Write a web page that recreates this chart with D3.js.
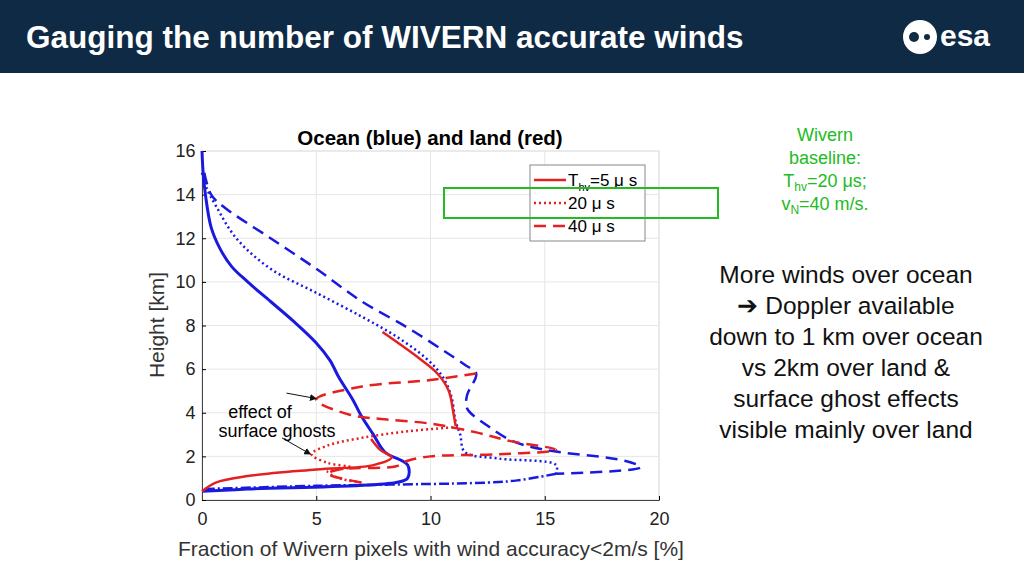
<!DOCTYPE html>
<meta charset="utf-8">
<style>
body{margin:0;background:#fff;font-family:"Liberation Sans",Arial,sans-serif;}
</style>
<body>
<script src="https://d3js.org/d3.v7.min.js"></script>
<script>
// [fraction %, height km]
var oceanSolid = [[0,16],[0.05,15],[0.15,14],[0.4,12.5],[0.8,11.5],[1.3,10.7],[2,10],[3,9.1],[4,8.2],[5,7.2],[5.6,6.4],[6,5.6],[6.6,4.6],[7,3.8],[7.5,3],[8,2.2],[9,1.6],[9,1],[8.5,0.8],[2,0.5],[0,0.4]];
var oceanDot = [[0,15],[0.2,14.3],[0.6,13.5],[1.5,12],[3,10.6],[5,9.5],[7,8.4],[8.5,7.5],[9.8,6.5],[10.5,5.7],[10.9,4.8],[11.1,3.6],[11.3,3],[11.5,2.2],[13,1.9],[15.5,1.6],[15.5,1.2]];
var oceanDash = [[0.1,15],[0.4,14],[1,13.4],[3,12],[5,10.6],[7,9.1],[9,7.9],[10.5,6.9],[11.5,6.2],[12,5.8],[11.6,4.8],[11.6,4.2],[12.5,3.4],[13.6,2.7],[15,2.3],[18.5,1.8],[19.2,1.5],[15.5,1.2]];
var oceanLow = [[15.5,1.2],[13.8,0.9],[12.5,0.8],[5,0.65],[0,0.5]];
var landSolid = [[7.9,7.7],[9.5,6.5],[10.3,5.8],[10.8,5],[11,4],[11.1,3.4],null,[7.4,2.8],[7.8,2.3],[8.3,1.95],[7.5,1.6],[5,1.4],[2,1.1],[0.6,0.8],[0,0.4]];
var landDot = [[11.2,3.35],[9,3.15],[7,2.85],[5.5,2.5],[4.8,2.1],[5.5,1.7],[6.5,1.5],[5.5,1.3],[6,1],[7,0.8]];
var landDash = [[12,5.8],[10,5.5],[7,5.2],[5,4.6],[6.5,3.9],[8,3.7],[10,3.5],[12,3.1],[13.5,2.7],[15.5,2.3],[13,2.1],[10,2],[9,1.8],[8.5,1.55],[6,1.4],[5.5,1.2],[7,0.8]];
var xTicks = [0,5,10,15,20];
var yTicks = [0,2,4,6,8,10,12,14,16];
var legendItems = [["T","=5 \u03bc s","0"],["","20 \u03bc s","2,3"],["","40 \u03bc s","12,7"]];
var notes = ["More winds over ocean","\u2794 Doppler available","down to 1 km over ocean","vs 2km over land &","surface ghost effects","visible mainly over land"];

var svg = d3.select("body").append("svg").attr("width",1024).attr("height",575);
svg.append("rect").attr("width",1024).attr("height",73).attr("fill","#0f2a44");
svg.append("text").attr("x",26).attr("y",48).attr("fill","#fff").attr("font-size",31.5).attr("font-weight","bold").text("Gauging the number of WIVERN accurate winds");
// esa logo
svg.append("circle").attr("cx",920).attr("cy",37).attr("r",17).attr("fill","#fff");
svg.append("circle").attr("cx",914).attr("cy",37).attr("r",5).attr("fill","#0f2a44");
svg.append("circle").attr("cx",927).attr("cy",37).attr("r",3).attr("fill","#0f2a44");
svg.append("text").attr("x",940).attr("y",46).attr("fill","#fff").attr("font-size",30).attr("font-weight","bold").text("esa");

var x = d3.scaleLinear().domain([0,20]).range([202,659]);
var y = d3.scaleLinear().domain([0,16]).range([500,151]);
var g = svg.append("g").attr("font-family","Liberation Sans, Arial");
g.append("rect").attr("x",202).attr("y",151).attr("width",457).attr("height",349).attr("fill","#fff").attr("stroke","#ddd");
xTicks.forEach(function(t){g.append("line").attr("x1",x(t)).attr("x2",x(t)).attr("y1",151).attr("y2",500).attr("stroke","#e6e6e6");});
yTicks.forEach(function(t){g.append("line").attr("x1",202).attr("x2",659).attr("y1",y(t)).attr("y2",y(t)).attr("stroke","#e6e6e6");});
g.append("g").attr("transform","translate(0,500)").call(d3.axisBottom(x).tickValues(xTicks).tickSize(-4))
  .call(function(a){a.selectAll("text").attr("font-size",18).attr("fill","#222").attr("dy","1.2em");a.select(".domain").attr("stroke","#444");});
g.append("g").attr("transform","translate(202,0)").call(d3.axisLeft(y).tickValues(yTicks).tickSize(-4))
  .call(function(a){a.selectAll("text").attr("font-size",18).attr("fill","#222").attr("dx","-0.2em");a.select(".domain").attr("stroke","#444");});
g.append("text").attr("x",430).attr("y",145).attr("text-anchor","middle").attr("font-size",20.5).attr("font-weight","bold").text("Ocean (blue) and land (red)");
g.append("text").attr("x",431).attr("y",556).attr("text-anchor","middle").attr("font-size",21).attr("fill","#333").text("Fraction of Wivern pixels with wind accuracy<2m/s [%]");
g.append("text").attr("transform","translate(164,325) rotate(-90)").attr("text-anchor","middle").attr("font-size",21).attr("fill","#333").text("Height [km]");

var line = d3.line().defined(function(d){return d;}).curve(d3.curveCatmullRom).x(function(d){return x(d[0]);}).y(function(d){return y(d[1]);});
function draw(data,color,dash,w){
  g.append("path").datum(data).attr("d",line).attr("fill","none").attr("stroke",color).attr("stroke-width",w||2.5).attr("stroke-dasharray",dash);
}
draw(oceanDot,"#1a1adf","2,3");
draw(oceanDash,"#1a1adf","12,7");
draw(oceanLow,"#1a1adf","10,3,2,3");
draw(oceanSolid,"#1a1adf",null,3);
draw(landDash,"#e52020","12,7");
draw(landDot,"#e52020","2,3");
draw(landSolid,"#e52020",null,2.5);

// annotations
svg.append("defs").append("marker").attr("id","ar").attr("viewBox","0 0 10 10").attr("refX",9).attr("refY",5)
  .attr("markerWidth",7).attr("markerHeight",7).attr("orient","auto").append("path").attr("d","M0,0L10,5L0,10z").attr("fill","#111");
[[[3.7,4.9],[5,4.65]],[[3.5,2.85],[4.75,2.1]]].forEach(function(a){
  g.append("line").attr("x1",x(a[0][0])).attr("y1",y(a[0][1])).attr("x2",x(a[1][0])).attr("y2",y(a[1][1])).attr("stroke","#111").attr("marker-end","url(#ar)");
});
g.append("text").attr("x",260).attr("y",418).attr("text-anchor","middle").attr("font-size",18).text("effect of");
g.append("text").attr("x",277).attr("y",437).attr("text-anchor","middle").attr("font-size",18).text("surface ghosts");

// legend
var lg = g.append("g");
lg.append("rect").attr("x",530).attr("y",165).attr("width",115).attr("height",76).attr("fill","#fff").attr("stroke","#888");
legendItems.forEach(function(d,i){
  var yy = 180 + i*23;
  lg.append("line").attr("x1",534).attr("x2",566).attr("y1",yy).attr("y2",yy).attr("stroke","#e52020").attr("stroke-width",2.5).attr("stroke-dasharray",d[2]);
  var t = lg.append("text").attr("x",568).attr("y",yy+6).attr("font-size",17);
  if (d[0]) { t.append("tspan").text("T"); t.append("tspan").attr("font-size",11).attr("dy",5).text("hv"); t.append("tspan").attr("dy",-5).text(d[1]); }
  else t.text(d[1]);
});
svg.append("rect").attr("x",444).attr("y",188).attr("width",274).attr("height",30).attr("fill","none").attr("stroke","#22bb22").attr("stroke-width",2);

// green baseline text
var gr = svg.append("g").attr("fill","#22bb22").attr("font-size",18).attr("text-anchor","middle");
gr.append("text").attr("x",825).attr("y",141).text("Wivern");
gr.append("text").attr("x",825).attr("y",164).text("baseline:");
var t3 = gr.append("text").attr("x",825).attr("y",187);
t3.append("tspan").text("T"); t3.append("tspan").attr("font-size",12).attr("dy",4).text("hv"); t3.append("tspan").attr("dy",-4).text("=20 \u03bcs;");
var t4 = gr.append("text").attr("x",825).attr("y",210);
t4.append("tspan").text("v"); t4.append("tspan").attr("font-size",12).attr("dy",4).text("N"); t4.append("tspan").attr("dy",-4).text("=40 m/s.");

var nt = svg.append("g").attr("font-size",24.5).attr("text-anchor","middle").attr("fill","#111");
notes.forEach(function(s,i){ nt.append("text").attr("x",846).attr("y",283+i*31).text(s); });
</script>
